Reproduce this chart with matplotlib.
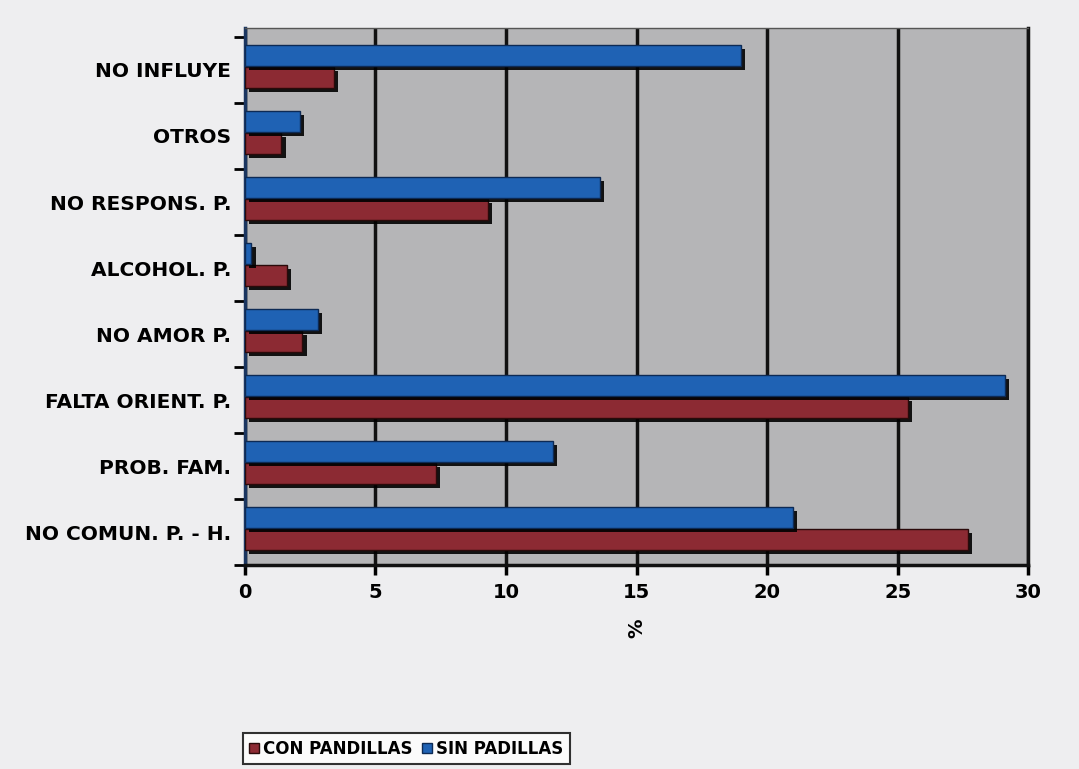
import numpy as np
import matplotlib
matplotlib.use('Agg')
import matplotlib.pyplot as plt
import matplotlib.patheffects as pe

# datos (de abajo hacia arriba)
categories = ['NO COMUN. P. - H.', 'PROB. FAM.', 'FALTA ORIENT. P.', 'NO AMOR P.',
              'ALCOHOL. P.', 'NO RESPONS. P.', 'OTROS', 'NO INFLUYE']
con_pandillas = [27.7, 7.3, 25.4, 2.2, 1.6, 9.3, 1.4, 3.4]
sin_padillas = [21.0, 11.8, 29.1, 2.8, 0.25, 13.6, 2.1, 19.0]
x_ticks = [0, 5, 10, 15, 20, 25, 30]

red = '#8c2a33'
blue = '#1f62b4'


def main():
    draw_pic()


def draw_pic():
    fig = plt.figure(figsize=(10.79, 7.69), dpi=100, facecolor='#eeeef0')
    ax = fig.add_axes([0.227, 0.265, 0.726, 0.699])
    ax.set_facecolor('#b5b5b7')

    y = np.arange(len(categories))
    h = 0.32
    shadow = [pe.SimplePatchShadow(offset=(3, -3), shadow_rgbFace='black', alpha=0.9), pe.Normal()]

    b1 = ax.barh(y - 0.11, con_pandillas, height=h, color=red, edgecolor='#2a0a0a',
                 linewidth=1, label='CON PANDILLAS', zorder=3)
    b2 = ax.barh(y + 0.22, sin_padillas, height=h, color=blue, edgecolor='#0d2a55',
                 linewidth=1, label='SIN PADILLAS', zorder=3)
    for bar in list(b1) + list(b2):
        bar.set_path_effects(shadow)

    ax.set_xlim(0, 30)
    ax.set_ylim(-0.5, 7.64)
    ax.set_xticks(x_ticks)
    ax.set_xticklabels([str(t) for t in x_ticks], fontsize=14, fontweight='bold')
    ax.xaxis.grid(True, color='#111111', linewidth=2.5, zorder=1)
    ax.set_axisbelow(True)

    ax.set_yticks(y)
    ax.set_yticklabels(categories, fontsize=14.5, fontweight='bold')
    ax.set_yticks(np.arange(-0.5, 8, 1), minor=True)
    ax.tick_params(axis='y', which='major', length=0, pad=10)
    ax.tick_params(axis='y', which='minor', length=8, width=2, direction='out')
    ax.tick_params(axis='x', length=7, width=2.5, direction='out', pad=6)

    for s in ['left', 'bottom', 'right']:
        ax.spines[s].set_linewidth(2.5)
        ax.spines[s].set_color('#111111')
    ax.spines['left'].set_color('#1a3560')
    ax.spines['top'].set_linewidth(1)
    ax.spines['top'].set_color('#555555')

    ax.set_xlabel('%', fontsize=14, fontweight='bold', rotation=90, labelpad=12)

    leg = fig.legend(handles=[b1, b2], loc='lower left', bbox_to_anchor=(0.225, 0.006),
                     ncol=2, prop={'size': 12, 'weight': 'bold'}, frameon=True,
                     fancybox=False, handlelength=0.6, handleheight=0.6, handletextpad=0.2,
                     columnspacing=0.6, borderpad=0.4, borderaxespad=0)
    leg.get_frame().set_edgecolor('black')
    leg.get_frame().set_linewidth(1.5)
    leg.get_frame().set_facecolor('white')
    for p in leg.get_patches():
        p.set_path_effects([])

    plt.savefig('out.png', dpi=100, facecolor=fig.get_facecolor())


if __name__ == '__main__':
    main()
